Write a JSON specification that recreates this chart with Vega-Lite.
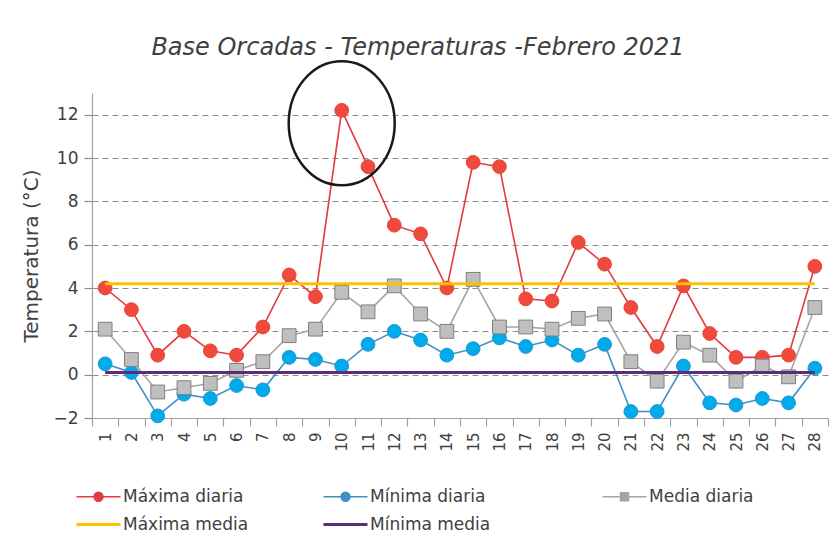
{
  "$schema": "https://vega.github.io/schema/vega-lite/v6.json",
  "width": 736,
  "height": 325,
  "autosize": {"type": "none"},
  "padding": {"left": 92, "top": 93, "right": 3, "bottom": 116},
  "background": "white",
  "title": {
    "text": "Base Orcadas - Temperaturas -Febrero 2021",
    "font": "DejaVu Sans",
    "fontSize": 24,
    "fontStyle": "italic",
    "fontWeight": "normal",
    "color": "#404040",
    "anchor": "middle",
    "frame": "group",
    "dx": -42,
    "dy": 40,
    "offset": 36
  },
  "config": {"view": {"stroke": null}, "font": "DejaVu Sans"},
  "datasets": {
    "temp": [
      {"dia": 1, "serie": "Máxima diaria", "t": 4.0},
      {"dia": 2, "serie": "Máxima diaria", "t": 3.0},
      {"dia": 3, "serie": "Máxima diaria", "t": 0.9},
      {"dia": 4, "serie": "Máxima diaria", "t": 2.0},
      {"dia": 5, "serie": "Máxima diaria", "t": 1.1},
      {"dia": 6, "serie": "Máxima diaria", "t": 0.9},
      {"dia": 7, "serie": "Máxima diaria", "t": 2.2},
      {"dia": 8, "serie": "Máxima diaria", "t": 4.6},
      {"dia": 9, "serie": "Máxima diaria", "t": 3.6},
      {"dia": 10, "serie": "Máxima diaria", "t": 12.2},
      {"dia": 11, "serie": "Máxima diaria", "t": 9.6},
      {"dia": 12, "serie": "Máxima diaria", "t": 6.9},
      {"dia": 13, "serie": "Máxima diaria", "t": 6.5},
      {"dia": 14, "serie": "Máxima diaria", "t": 4.0},
      {"dia": 15, "serie": "Máxima diaria", "t": 9.8},
      {"dia": 16, "serie": "Máxima diaria", "t": 9.6},
      {"dia": 17, "serie": "Máxima diaria", "t": 3.5},
      {"dia": 18, "serie": "Máxima diaria", "t": 3.4},
      {"dia": 19, "serie": "Máxima diaria", "t": 6.1},
      {"dia": 20, "serie": "Máxima diaria", "t": 5.1},
      {"dia": 21, "serie": "Máxima diaria", "t": 3.1},
      {"dia": 22, "serie": "Máxima diaria", "t": 1.3},
      {"dia": 23, "serie": "Máxima diaria", "t": 4.1},
      {"dia": 24, "serie": "Máxima diaria", "t": 1.9},
      {"dia": 25, "serie": "Máxima diaria", "t": 0.8},
      {"dia": 26, "serie": "Máxima diaria", "t": 0.8},
      {"dia": 27, "serie": "Máxima diaria", "t": 0.9},
      {"dia": 28, "serie": "Máxima diaria", "t": 5.0},
      {"dia": 1, "serie": "Mínima diaria", "t": 0.5},
      {"dia": 2, "serie": "Mínima diaria", "t": 0.1},
      {"dia": 3, "serie": "Mínima diaria", "t": -1.9},
      {"dia": 4, "serie": "Mínima diaria", "t": -0.9},
      {"dia": 5, "serie": "Mínima diaria", "t": -1.1},
      {"dia": 6, "serie": "Mínima diaria", "t": -0.5},
      {"dia": 7, "serie": "Mínima diaria", "t": -0.7},
      {"dia": 8, "serie": "Mínima diaria", "t": 0.8},
      {"dia": 9, "serie": "Mínima diaria", "t": 0.7},
      {"dia": 10, "serie": "Mínima diaria", "t": 0.4},
      {"dia": 11, "serie": "Mínima diaria", "t": 1.4},
      {"dia": 12, "serie": "Mínima diaria", "t": 2.0},
      {"dia": 13, "serie": "Mínima diaria", "t": 1.6},
      {"dia": 14, "serie": "Mínima diaria", "t": 0.9},
      {"dia": 15, "serie": "Mínima diaria", "t": 1.2},
      {"dia": 16, "serie": "Mínima diaria", "t": 1.7},
      {"dia": 17, "serie": "Mínima diaria", "t": 1.3},
      {"dia": 18, "serie": "Mínima diaria", "t": 1.6},
      {"dia": 19, "serie": "Mínima diaria", "t": 0.9},
      {"dia": 20, "serie": "Mínima diaria", "t": 1.4},
      {"dia": 21, "serie": "Mínima diaria", "t": -1.7},
      {"dia": 22, "serie": "Mínima diaria", "t": -1.7},
      {"dia": 23, "serie": "Mínima diaria", "t": 0.4},
      {"dia": 24, "serie": "Mínima diaria", "t": -1.3},
      {"dia": 25, "serie": "Mínima diaria", "t": -1.4},
      {"dia": 26, "serie": "Mínima diaria", "t": -1.1},
      {"dia": 27, "serie": "Mínima diaria", "t": -1.3},
      {"dia": 28, "serie": "Mínima diaria", "t": 0.3},
      {"dia": 1, "serie": "Media diaria", "t": 2.1},
      {"dia": 2, "serie": "Media diaria", "t": 0.7},
      {"dia": 3, "serie": "Media diaria", "t": -0.8},
      {"dia": 4, "serie": "Media diaria", "t": -0.6},
      {"dia": 5, "serie": "Media diaria", "t": -0.4},
      {"dia": 6, "serie": "Media diaria", "t": 0.2},
      {"dia": 7, "serie": "Media diaria", "t": 0.6},
      {"dia": 8, "serie": "Media diaria", "t": 1.8},
      {"dia": 9, "serie": "Media diaria", "t": 2.1},
      {"dia": 10, "serie": "Media diaria", "t": 3.8},
      {"dia": 11, "serie": "Media diaria", "t": 2.9},
      {"dia": 12, "serie": "Media diaria", "t": 4.1},
      {"dia": 13, "serie": "Media diaria", "t": 2.8},
      {"dia": 14, "serie": "Media diaria", "t": 2.0},
      {"dia": 15, "serie": "Media diaria", "t": 4.4},
      {"dia": 16, "serie": "Media diaria", "t": 2.2},
      {"dia": 17, "serie": "Media diaria", "t": 2.2},
      {"dia": 18, "serie": "Media diaria", "t": 2.1},
      {"dia": 19, "serie": "Media diaria", "t": 2.6},
      {"dia": 20, "serie": "Media diaria", "t": 2.8},
      {"dia": 21, "serie": "Media diaria", "t": 0.6},
      {"dia": 22, "serie": "Media diaria", "t": -0.3},
      {"dia": 23, "serie": "Media diaria", "t": 1.5},
      {"dia": 24, "serie": "Media diaria", "t": 0.9},
      {"dia": 25, "serie": "Media diaria", "t": -0.3},
      {"dia": 26, "serie": "Media diaria", "t": 0.4},
      {"dia": 27, "serie": "Media diaria", "t": -0.1},
      {"dia": 28, "serie": "Media diaria", "t": 3.1},
      {"dia": 1, "serie": "Máxima media", "t": 4.2},
      {"dia": 28, "serie": "Máxima media", "t": 4.2},
      {"dia": 1, "serie": "Mínima media", "t": 0.1},
      {"dia": 28, "serie": "Mínima media", "t": 0.1}
    ],
    "circulo": [
      {"dia": 10, "t": 11.6}
    ]
  },
  "encoding": {
    "x": {
      "field": "dia",
      "type": "ordinal",
      "bandPosition": 0.5,
      "scale": {"type": "band", "paddingInner": 0, "paddingOuter": 0},
      "axis": {
        "title": null,
        "labelAngle": 270,
        "labelFont": "DejaVu Sans",
        "labelFontSize": 15,
        "labelColor": "#404040",
        "labelPadding": 6,
        "tickBand": "extent",
        "tickSize": 8,
        "tickColor": "#A0A0A0",
        "tickWidth": 1.2,
        "domainColor": "#A0A0A0",
        "domainWidth": 1.2,
        "grid": false
      }
    },
    "y": {
      "field": "t",
      "type": "quantitative",
      "scale": {"domain": [-2, 13], "nice": false, "zero": false},
      "axis": {
        "values": [-2, 0, 2, 4, 6, 8, 10, 12],
        "title": "Temperatura (°C)",
        "titleFont": "DejaVu Sans",
        "titleFontSize": 20,
        "titleFontWeight": "normal",
        "titleColor": "#404040",
        "titlePadding": 11,
        "labelFont": "DejaVu Sans",
        "labelFontSize": 17,
        "labelColor": "#404040",
        "labelPadding": 6,
        "domainColor": "#A0A0A0",
        "domainWidth": 1.2,
        "tickColor": "#8C8C8C",
        "tickSize": 8,
        "tickWidth": 1.2,
        "grid": true,
        "gridColor": "#8C8C8C",
        "gridDash": [6, 4],
        "gridWidth": 1.2
      }
    }
  },
  "layer": [
    {
      "data": {"name": "temp"},
      "transform": [{"filter": {"field": "serie", "oneOf": ["Máxima diaria", "Mínima diaria", "Media diaria"]}}],
      "mark": {"type": "line", "strokeWidth": 1.6},
      "encoding": {
        "color": {
          "field": "serie",
          "type": "nominal",
          "scale": {
            "domain": ["Máxima diaria", "Mínima diaria", "Media diaria", "Máxima media", "Mínima media"],
            "range": ["#E23A3E", "#3F8FC4", "#A5A5A5", "#FFC000", "#5E2D79"]
          },
          "legend": {
            "orient": "none",
            "legendX": -2,
            "legendY": 395,
            "direction": "horizontal",
            "columns": 3,
            "title": null,
            "labelFont": "DejaVu Sans",
            "labelFontSize": 17,
            "labelColor": "#404040",
            "labelOffset": 16,
            "labelLimit": 300,
            "symbolSize": 1936,
            "symbolStrokeWidth": 2,
            "symbolType": "M-1,0L1,0",
            "columnPadding": 68,
            "rowPadding": 10,
            "encode": {
              "symbols": {
                "update": {
                  "shape": {"signal": "datum.value === 'Media diaria' ? 'M-2.8,0L-2.8,0M-1,0L-0.18,0M0.18,0L1,0M-0.18,-0.18L0.18,-0.18L0.18,0.18L-0.18,0.18Z' : (datum.value === 'Máxima diaria' || datum.value === 'Mínima diaria') ? 'M-1,0L1,0M-0.2,0A0.2,0.2 0 1,1 0.2,0A0.2,0.2 0 1,1 -0.2,0Z' : 'M-1,0L1,0'"},
                  "fill": {"scale": "color", "field": "value"},
                  "stroke": {"scale": "color", "field": "value"},
                  "strokeWidth": {"signal": "(datum.value === 'Máxima media' || datum.value === 'Mínima media') ? 3 : 1.6"}
                }
              }
            }
          }
        }
      }
    },
    {
      "data": {"name": "temp"},
      "transform": [{"filter": {"field": "serie", "oneOf": ["Máxima diaria", "Mínima diaria", "Media diaria"]}}],
      "mark": {"type": "point", "filled": true, "size": 190, "strokeWidth": 1, "opacity": 1},
      "encoding": {
        "shape": {
          "field": "serie",
          "type": "nominal",
          "scale": {"domain": ["Máxima diaria", "Mínima diaria", "Media diaria"], "range": ["circle", "circle", "square"]},
          "legend": null
        },
        "fill": {
          "field": "serie",
          "type": "nominal",
          "scale": {"domain": ["Máxima diaria", "Mínima diaria", "Media diaria"], "range": ["#F04A3C", "#00ABEB", "#BFBFBF"]},
          "legend": null
        },
        "stroke": {
          "field": "serie",
          "type": "nominal",
          "scale": {"domain": ["Máxima diaria", "Mínima diaria", "Media diaria"], "range": ["#E8443A", "#1D95D0", "#7F7F7F"]},
          "legend": null
        }
      }
    },
    {
      "data": {"name": "temp"},
      "transform": [{"filter": {"field": "serie", "oneOf": ["Máxima media", "Mínima media"]}}],
      "mark": {"type": "line", "strokeWidth": 3},
      "encoding": {
        "color": {"field": "serie", "type": "nominal"}
      }
    },
    {
      "data": {"name": "circulo"},
      "mark": {
        "type": "point",
        "shape": "M0,-1A0.855,1 0 1,1 0,1A0.855,1 0 1,1 0,-1Z",
        "size": 15376,
        "filled": false,
        "stroke": "#1A1A1A",
        "strokeWidth": 2.5,
        "opacity": 1
      },
      "encoding": {}
    }
  ]
}
